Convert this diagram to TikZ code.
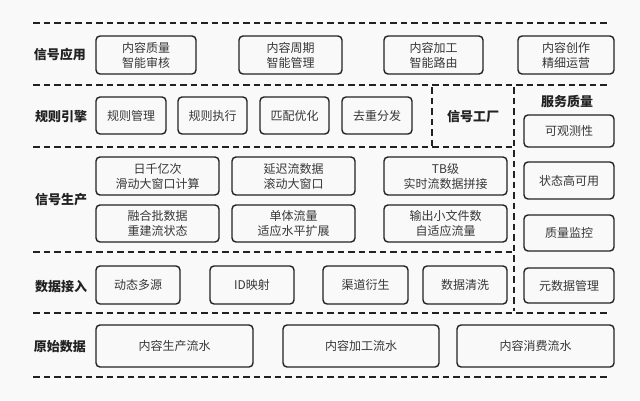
\documentclass[tikz,border=0pt]{standalone}
\usepackage{fontspec}
\setmainfont{Noto Sans CJK SC}
\definecolor{bg}{RGB}{249,249,249}
\definecolor{ink}{RGB}{34,34,34}
\definecolor{txt}{RGB}{55,55,55}
\tikzset{
  box/.style={draw=ink, line width=1.4pt, rounded corners=4pt, inner sep=0pt,
    align=center, text=txt, font=\fontsize{12}{15}\selectfont},
  layer/.style={text=ink, font=\fontsize{13}{15}\selectfont\bfseries},
  sep/.style={draw=ink, line width=1.5pt, dash pattern=on 6.5pt off 4pt}
}
% \bx{name}{x1}{y1}{x2}{y2}{text}
\newcommand{\bx}[6]{%
  \pgfmathsetmacro{\cxx}{(#2+#4)/2}\pgfmathsetmacro{\cyy}{(#3+#5)/2}%
  \pgfmathsetmacro{\wdd}{#4-#2}\pgfmathsetmacro{\htt}{#5-#3}%
  \node[box, minimum width=\wdd pt, minimum height=\htt pt] (#1) at (\cxx,\cyy) {#6};}
\begin{document}
\begin{tikzpicture}[x=1pt,y=-1pt]
\fill[bg] (0,0) rectangle (640,400);
\useasboundingbox (0,0) rectangle (640,400);
% separators
\draw[sep] (33,23) -- (610,23);
\draw[sep] (33,85) -- (610,85);
\draw[sep] (33,147) -- (513,147);
\draw[sep] (33,252) -- (513,252);
\draw[sep] (33,313) -- (610,313);
\draw[sep] (33,377) -- (610,377);
\draw[sep] (432,87) -- (432,147);
\draw[sep] (514,87) -- (514,311);
% layer labels
\node[layer] (L1) at (60,55) {信号应用};
\node[layer] (L2) at (61,117) {规则引擎};
\node[layer] (L3) at (61,200) {信号生产};
\node[layer] (L4) at (61,287) {数据接入};
\node[layer] (L5) at (60,347) {原始数据};
\node[layer] (sf) at (473,117) {信号工厂};
\node[layer] (sq) at (567,101) {服务质量};
% row 1
\bx{a1}{96}{36}{196}{74}{内容质量\\智能审核}
\bx{a2}{239}{36}{342}{74}{内容周期\\智能管理}
\bx{a3}{384}{36}{483}{74}{内容加工\\智能路由}
\bx{a4}{518}{36}{614}{74}{内容创作\\精细运营}
% row 2
\bx{b1}{96}{97}{166}{134}{规则管理}
\bx{b2}{178}{97}{247}{134}{规则执行}
\bx{b3}{260}{97}{329}{134}{匹配优化}
\bx{b4}{342}{97}{412}{134}{去重分发}
% row 3
\bx{c1}{96}{157}{219}{195}{日千亿次\\滑动大窗口计算}
\bx{c2}{232}{157}{355}{195}{延迟流数据\\滚动大窗口}
\bx{c3}{384}{157}{507}{195}{TB级\\实时流数据拼接}
\bx{d1}{96}{205}{219}{242}{融合批数据\\重建流状态}
\bx{d2}{232}{205}{355}{242}{单体流量\\适应水平扩展}
\bx{d3}{384}{205}{507}{242}{输出小文件数\\自适应流量}
% row 4
\bx{e1}{96}{266}{180}{304}{动态多源}
\bx{e2}{210}{266}{294}{304}{ID映射}
\bx{e3}{323}{266}{408}{304}{渠道衍生}
\bx{e4}{423}{266}{507}{304}{数据清洗}
% row 5
\bx{f1}{96}{325}{253}{367}{内容生产流水}
\bx{f2}{283}{325}{439}{367}{内容加工流水}
\bx{f3}{457}{325}{614}{367}{内容消费流水}
% service quality column
\bx{q1}{524}{115}{614}{147}{可观测性}
\bx{q2}{524}{162}{614}{199}{状态高可用}
\bx{q3}{524}{215}{614}{251}{质量监控}
\bx{q4}{524}{268}{614}{303}{元数据管理}
\end{tikzpicture}
\end{document}
